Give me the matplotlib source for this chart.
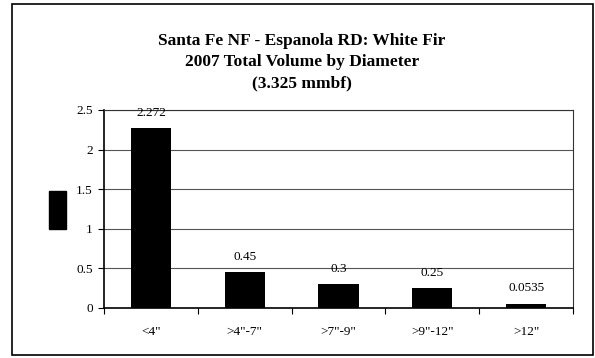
import matplotlib.pyplot as plt
from matplotlib.patches import Rectangle

categories = ['<4"', '>4"-7"', '>7"-9"', '>9"-12"', '>12"']
volumes = [2.272, 0.45, 0.3, 0.25, 0.0535]
value_labels = ['2.272', '0.45', '0.3', '0.25', '0.0535']
yticks = [0, 0.5, 1, 1.5, 2, 2.5]
title = 'Santa Fe NF - Espanola RD: White Fir\n2007 Total Volume by Diameter\n(3.325 mmbf)'

plt.rcParams['font.family'] = ['Liberation Serif', 'DejaVu Serif']

fig = plt.figure(figsize=(5.95, 3.58), dpi=100)
ax = fig.add_axes([104 / 595, 1 - 308 / 358, (573 - 104) / 595, (308 - 110) / 358])

# outer chart border
fig.patches.append(Rectangle((12 / 595, 1 - 355 / 358), (593 - 12) / 595, (355 - 4) / 358,
                             transform=fig.transFigure, fill=False, edgecolor='black', linewidth=1.2))

x = list(range(len(categories)))
ax.bar(x, volumes, width=0.43, color='black', zorder=3)
for xi, v, lab in zip(x, volumes, value_labels):
    ax.annotate(lab, (xi, v), xytext=(0, 11), textcoords='offset points',
                ha='center', va='center', fontsize=9.5, zorder=4)

ax.set_xlim(-0.5, len(categories) - 0.5)
ax.set_ylim(0, 2.5)
ax.set_yticks(yticks)
ax.set_yticklabels([f'{t:g}' for t in yticks], fontsize=9.5)
ax.set_xticks(x)
ax.set_xticklabels(categories, fontsize=9.5)
ax.set_xticks([i - 0.5 for i in range(len(categories) + 1)], minor=True)
ax.tick_params(axis='x', which='major', length=0, pad=13)
ax.tick_params(axis='x', which='minor', length=4, direction='out', width=0.8)
ax.tick_params(axis='y', length=4, direction='out', width=0.8, pad=4)
ax.grid(axis='y', color='#555555', linewidth=0.8, zorder=0)
for side in ['top', 'right']:
    ax.spines[side].set_linewidth(0.8)
    ax.spines[side].set_color('#333333')
for side in ['left', 'bottom']:
    ax.spines[side].set_linewidth(1.2)

# garbled rotated axis label from the source, rendered as a black block
fig.patches.append(Rectangle((49 / 595, 1 - 229 / 358), 17 / 595, 38 / 358,
                             transform=fig.transFigure, color='black'))

fig.text(302 / 595, 1 - 62 / 358, title, ha='center', va='center',
         fontsize=12.5, fontweight='bold', linespacing=1.45)

fig.savefig('out.png', dpi=100)
